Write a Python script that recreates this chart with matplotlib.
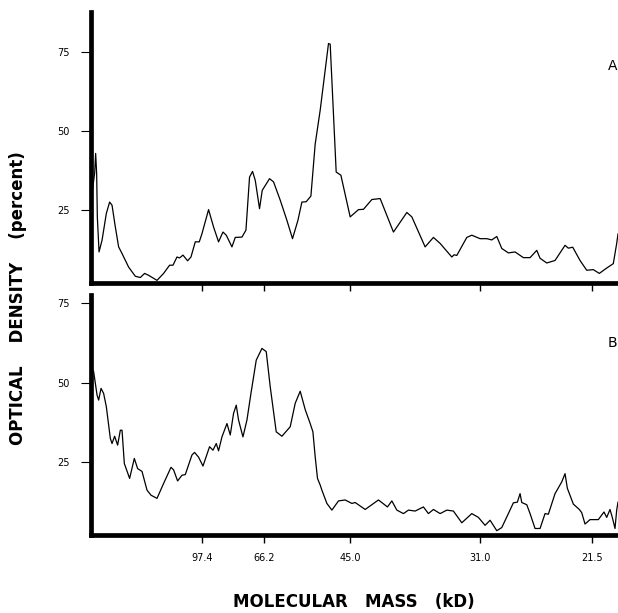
import matplotlib
matplotlib.use("Agg")
import matplotlib.pyplot as plt

# densitometer scans, x = migration distance (arbitrary units), y = optical density (%)
scan_a_x = [0.5, 3.3, 4.3, 5.3, 6, 7.7, 10.7, 15, 18.3, 20.7, 24, 27.3, 30.7, 37.3, 44, 49, 53.3, 57.3,
            65.7, 72.3, 78.3, 81.7, 85.7, 88.3, 91.7, 96.3, 99.7, 104, 108, 110.7, 117.3, 122.3, 127.3,
            131.7, 135, 140.7, 144, 150.7, 154.7, 158.3, 161.3, 164, 168.3, 171, 178.3, 182.3, 189,
            195.7, 201.3, 206.7, 210.7, 215, 219.7, 224, 229, 237.3, 239, 245, 249.7, 259, 267.3, 272.3,
            280.7, 289, 302.3, 315.7, 320.7, 334, 342.3, 349, 360.7, 363, 365.7, 375.7, 380.7, 389,
            395.7, 400.7, 405.7, 410.7, 417.3, 424, 432.3, 439, 445.7, 449, 455.7, 464, 474, 477.3,
            481.7, 489, 495.7, 502.3, 508.3, 515.7, 522.3, 525.7, 527]
scan_a_y = [30, 36.7, 43, 36.7, 22.8, 11.8, 15.5, 24, 27.6, 26.6, 19.7, 13.4, 11.3, 7, 4.1, 3.7, 5, 4.4,
            2.8, 5, 7.6, 7.6, 10.2, 9.9, 10.8, 9, 10.2, 15, 15, 17.6, 25.2, 19.7, 15,
            18.1, 17.1, 13.4, 16.4, 16.5, 18.7, 35.5, 37.3, 34.5, 25.5, 31.3, 35, 34, 28.2,
            21.8, 16, 21.8, 27.6, 27.7, 29.5, 46, 56.7, 77.8, 77.6, 37.1, 36.1, 22.9, 25.2, 25.3,
            28.4, 28.7, 18.1, 24.3, 22.9, 13.4, 16.4, 14.5, 10.2, 10.9, 10.7, 16.4, 17.1, 16,
            16, 15.6, 16.7, 12.9, 11.5, 11.8, 10, 10, 12.3, 9.8, 8.3, 9.1, 13.9, 13.0,
            13.3, 9.1, 6, 6.2, 5, 6.7, 8.1, 14.5, 17.5]

scan_b_x = [0, 2.3, 5.7, 7.3, 9.7, 12.3, 15, 19, 20.7, 23.3, 26.3, 29, 30.7, 33, 38.3, 43, 46.3, 50.7,
            55.7, 59.7, 65.7, 72.3, 79.7, 82.3, 86.3, 90.7, 94, 100.7, 103.3, 107.3, 111.7, 118.3,
            121.7, 125, 127.3, 130.7, 135.7, 139, 142.3, 145, 147.3, 151.7, 155.7, 159.7, 165, 170.7,
            175, 179, 185, 190.7, 199, 204, 209, 214, 219, 221.7, 224, 226.3, 229, 230.7, 235.7,
            240.7, 247.3, 254, 260.7, 264, 274, 287.3, 296.3, 300.7, 305.7, 312.3, 317.3, 324, 332.3,
            337.3, 342.3, 349, 355.7, 362.3, 370.7, 380.7, 387.3, 394, 399, 405.7, 410.7, 417.3,
            422.3, 426.3, 429, 430.7, 435.7, 439, 444, 449, 454, 457.3, 464, 470.7, 474, 476.3,
            482.3, 488.3, 490.7, 494, 499, 507.3, 513, 515.7, 519, 521.3, 524, 525.7, 527]
scan_b_y = [54.5, 53.5, 46.1, 44.5, 48.2, 46.6, 42.4, 32.4, 30.8, 33.1, 30.3, 35, 35, 24.5, 19.8, 26.1, 22.9, 22,
            16.1, 14.5, 13.5, 18.2, 23.3, 22.5, 19, 20.8, 21, 27.2, 28, 26.5, 23.7, 29.8,
            28.7, 30.8, 28.5, 32.9, 37.1, 33.5, 40.3, 42.9, 38.2, 32.9, 38.2, 46.6, 57.1, 60.8,
            59.8, 48.7, 34.5, 33.1, 36.1, 43.5, 47.3, 41.5, 37.1, 34.5, 26.6, 19.8, 17.7, 16.1, 11.9,
            9.8, 12.7, 13, 11.9, 12.2, 10, 13, 10.8, 12.7, 9.8, 8.7, 9.8, 9.5, 10.8,
            8.7, 10, 8.7, 9.8, 9.5, 5.8, 8.7, 7.5, 5, 6.6, 3.3, 4.3, 8.7,
            12.1, 12.3, 15, 12.2, 11.5, 8.7, 4, 4, 8.7, 8.5, 15, 18.7, 21.3, 16.7,
            11.7, 10, 9, 5.4, 6.8, 6.8, 9.2, 7.5, 10, 7.5, 4, 9.8, 12.3]

# marker proteins (kD) and where they ran
marker_x = [111, 173, 259, 389, 501]
marker_labels = ["97.4", "66.2", "45.0", "31.0", "21.5"]
od_ticks = [25, 50, 75]

fig = plt.figure(figsize=(6.18, 6.13), dpi=100)
ax_a = fig.add_axes([0.147, 0.538, 0.853, 0.442])
ax_b = fig.add_axes([0.147, 0.127, 0.853, 0.392])

for ax, x, y, top, letter in [(ax_a, scan_a_x, scan_a_y, 87.7, "A"),
                               (ax_b, scan_b_x, scan_b_y, 77.7, "B")]:
    ax.plot(x, y, color="black", linewidth=0.9)
    ax.set_xlim(-0.5, 527)
    ax.set_ylim(1.9, top)
    ax.spines["top"].set_visible(False)
    ax.spines["right"].set_visible(False)
    ax.spines["left"].set_linewidth(3.4)
    ax.spines["bottom"].set_linewidth(3.4)
    ax.set_yticks(od_ticks)
    ax.set_yticklabels([str(t) for t in od_ticks], fontsize=7)
    ax.set_xticks(marker_x)
    ax.tick_params(axis="y", direction="out", length=7, width=0.8, pad=8)
    ax.tick_params(axis="x", direction="out", length=6, width=1.0, pad=7)
    ax.text(0.998, 0.8, letter, transform=ax.transAxes, fontsize=10, ha="right", va="center")

ax_a.set_xticklabels([])
ax_b.set_xticklabels(marker_labels, fontsize=7)

fig.text(0.029, 0.514, "OPTICAL    DENSITY    (percent)", rotation=90, fontsize=12,
         fontweight="bold", ha="center", va="center")
fig.text(0.573, 0.018, "MOLECULAR   MASS   (kD)", fontsize=12, fontweight="bold",
         ha="center", va="center")

fig.savefig("out.png", dpi=100)
